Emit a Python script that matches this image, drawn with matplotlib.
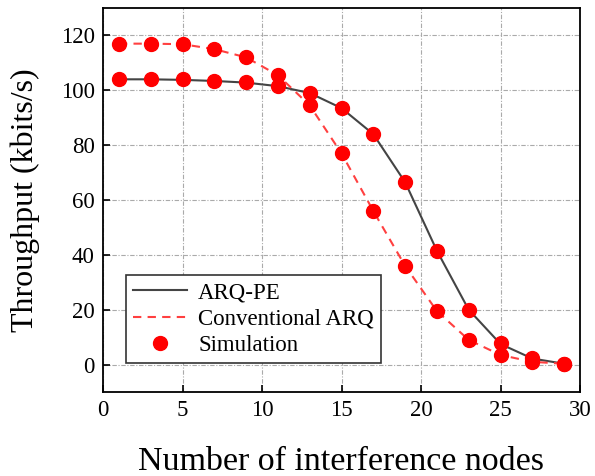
import matplotlib.pyplot as plt
import numpy as np

plt.rcParams['font.family'] = ['Liberation Serif', 'DejaVu Serif']

nodes = [1, 3, 5, 7, 9, 11, 13, 15, 17, 19, 21, 23, 25, 27, 29]
arq_pe = [104, 104, 103.8, 103.4, 102.8, 101.5, 99, 93.5, 84, 66.5, 41.5, 20, 7.5, 2.2, 0.3]
conv_arq = [117, 117, 116.8, 115, 112, 105.5, 94.5, 77, 56, 36, 19.5, 9, 3.5, 1, 0.3]
sim_pe = [104, 104, 104, 103.5, 103, 101.5, 99, 93.5, 84, 66.5, 41.5, 20, 7.8, 2.3, 0.3]
sim_conv = [117, 117, 117, 115, 112, 105.5, 94.5, 77, 56, 36, 19.5, 9, 3.5, 1, 0.3]

fig = plt.figure(figsize=(5.95, 4.76), dpi=100)
ax = fig.add_axes([103 / 595, 1 - 392 / 476, 477 / 595, 384 / 476])

ax.plot(nodes, arq_pe, color='#444444', lw=1.5, label='ARQ-PE', zorder=3)
ax.plot(nodes, conv_arq, color='#ff4040', lw=1.5, ls=(0, (4, 3)), label='Conventional ARQ', zorder=3)
ax.plot(nodes, sim_pe, 'o', color='red', ms=10, label='Simulation', zorder=4)
ax.plot(nodes, sim_conv, 'o', color='red', ms=10, zorder=4)

ax.set_xlim(0, 30)
ax.set_ylim(-10, 130)
ax.set_xticks(range(0, 31, 5))
ax.set_yticks(range(0, 121, 20))
ax.grid(True, color='#aaaaaa', ls=(0, (4, 1.5, 1, 1.5)), lw=0.8)
ax.tick_params(direction='in', labelsize=16.5, length=5, width=1.2, pad=6)
for sp in ax.spines.values():
    sp.set_linewidth(1.3)

ax.set_xlabel('Number of interference nodes', fontsize=24.5, labelpad=18)
ax.set_ylabel('Throughput (kbits/s)', fontsize=23, labelpad=15)

leg = ax.legend(loc='lower left', bbox_to_anchor=(0.048, 0.075), fontsize=16.5,
                frameon=True, fancybox=False, edgecolor='#333333',
                framealpha=1, handlelength=2.35, handletextpad=0.5,
                labelspacing=0.24, borderpad=0.3, borderaxespad=0)
leg.get_frame().set_linewidth(1.2)

fig.savefig('out.png', dpi=100)
